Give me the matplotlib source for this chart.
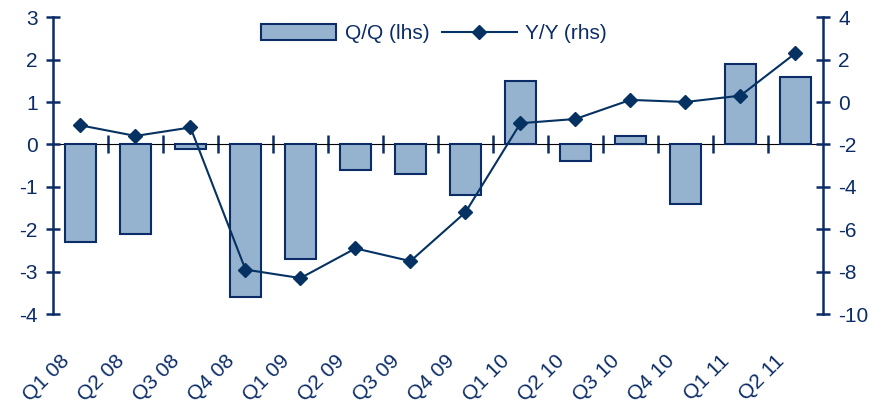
import matplotlib
matplotlib.use("Agg")
from matplotlib import pyplot as plt
from matplotlib.transforms import ScaledTranslation
from matplotlib.lines import Line2D
from matplotlib.patches import Patch

plt.rcParams['font.family'] = ['Liberation Sans', 'DejaVu Sans']
plt.rcParams['axes.unicode_minus'] = False

# quarterly GDP growth, q/q (left axis) and y/y (right axis)
quarters = ["Q1 08", "Q2 08", "Q3 08", "Q4 08", "Q1 09", "Q2 09", "Q3 09",
            "Q4 09", "Q1 10", "Q2 10", "Q3 10", "Q4 10", "Q1 11", "Q2 11"]
qq = [-2.3, -2.1, -0.1, -3.6, -2.7, -0.6, -0.7, -1.2, 1.5, -0.4, 0.2, -1.4, 1.9, 1.6]
yy = [-1.1, -1.6, -1.2, -7.9, -8.3, -6.9, -7.5, -5.2, -1.0, -0.8, 0.1, 0.0, 0.3, 2.3]

navy = '#0b2c66'
line_col = '#053262'
bar_col = '#95b2cf'

fig = plt.figure(figsize=(8.83, 4.08), dpi=100)
ax = fig.add_axes([0.06, 0.23, 0.872, 0.728])
ax2 = ax.twinx()

x = list(range(len(quarters)))
ax.bar(x, qq, width=0.58, color=bar_col, edgecolor=navy, linewidth=1.5, zorder=2)
ax2.plot(x, yy, color=line_col, linewidth=1.5, marker='D', markersize=7.5, zorder=3)

ax.set_xlim(-0.5, len(quarters) - 0.5)
ax.set_ylim(-4, 3)
ax2.set_ylim(-10, 4)
ax.set_yticks(range(-4, 4))
ax2.set_yticks(range(-10, 5, 2))

for a in (ax, ax2):
    for s in ('top', 'bottom'):
        a.spines[s].set_visible(False)
    a.patch.set_visible(False)
ax.spines['right'].set_visible(False)
ax2.spines['left'].set_visible(False)
ax.spines['left'].set_color(navy)
ax.spines['left'].set_linewidth(1.8)
ax2.spines['right'].set_color(navy)
ax2.spines['right'].set_linewidth(1.8)

ax.tick_params(axis='y', direction='inout', length=10, width=1.8, color=navy,
               labelcolor=navy, labelsize=15, pad=6)
ax2.tick_params(axis='y', direction='inout', length=10, width=1.8, color=navy,
                labelcolor=navy, labelsize=15, pad=6)

# zero line with category separators
zero = ax.secondary_xaxis(4 / 7)
zero.set_xticks([i + 0.5 for i in range(len(quarters) - 1)])
zero.set_xticklabels([])
zero.tick_params(axis='x', which='major', direction='inout', length=13, width=1.8, color=navy)
zero.spines['bottom'].set_color(navy)
zero.spines['bottom'].set_linewidth(1.8)

ax.set_xticks(x)
ax.set_xticklabels(quarters, rotation=45, ha='right', va='top',
                   rotation_mode='anchor', color=navy, fontsize=15)
ax.tick_params(axis='x', length=0, pad=27)
shift = ScaledTranslation(-0.21, 0, fig.dpi_scale_trans)
for lbl in ax.get_xticklabels():
    lbl.set_transform(lbl.get_transform() + shift)

ax2.set_zorder(ax.get_zorder() + 1)

handles = [Patch(facecolor=bar_col, edgecolor=navy, linewidth=1.5),
           Line2D([], [], color=line_col, linewidth=1.5, marker='D', markersize=7.5)]
leg = ax2.legend(handles, ['Q/Q (lhs)', 'Y/Y (rhs)'], loc='upper center',
                 bbox_to_anchor=(0.495, 1.04), ncol=2, frameon=False, fontsize=15,
                 handlelength=3.6, handleheight=0.8, columnspacing=0.6, handletextpad=0.4)
for t in leg.get_texts():
    t.set_color(navy)

fig.savefig("out.png", dpi=100)
